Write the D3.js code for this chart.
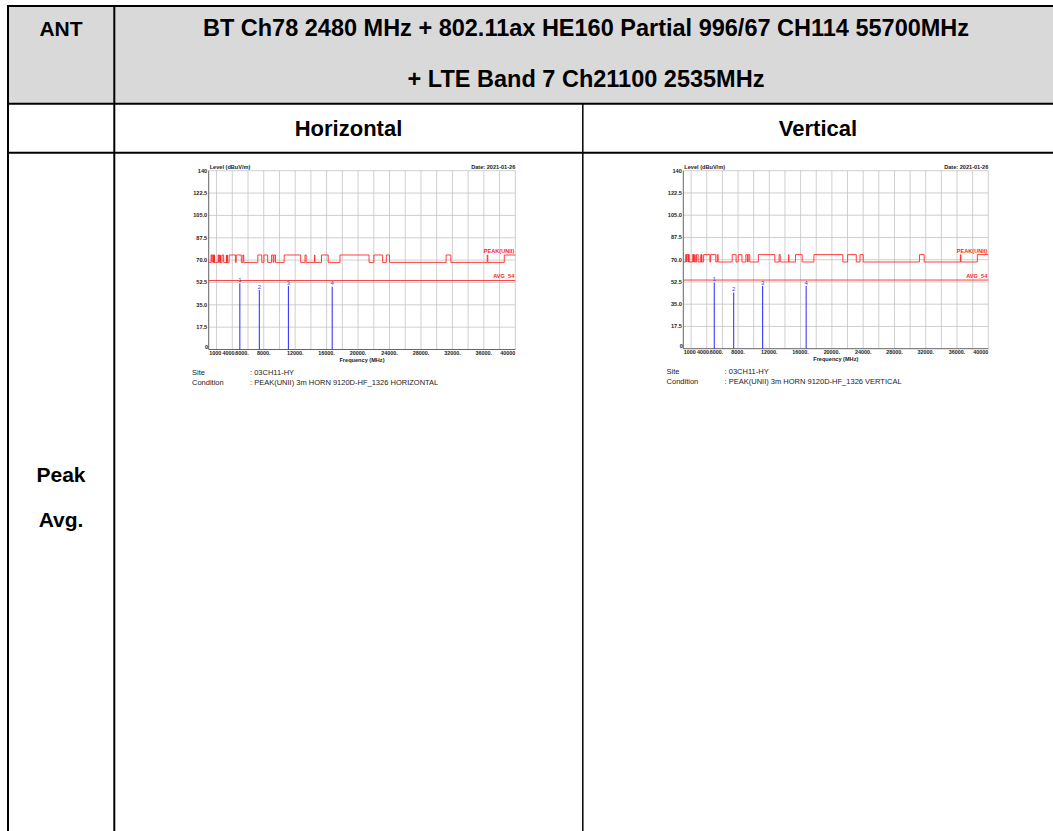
<!DOCTYPE html>
<html>
<head>
<meta charset="utf-8">
<script src="https://cdn.jsdelivr.net/npm/d3@7"></script>
<style>
  html, body { margin: 0; padding: 0; background: #ffffff; }
  svg { display: block; }
</style>
</head>
<body>
<script>
// ---- Axis definitions -------------------------------------------------
const freqTicks = [1000, 4000, 6000, 8000, 12000, 16000, 20000, 24000, 28000, 32000, 36000, 40000];
const freqTickLabels = ["1000", "4000.", "6000.", "8000.", "12000.", "16000.", "20000.", "24000.", "28000.", "32000.", "36000.", "40000"];
const levelTicks = [0, 17.5, 35, 52.5, 70, 87.5, 105, 122.5, 140];
const levelTickLabels = ["0", "17.5", "35.0", "52.5", "70.0", "87.5", "105.0", "122.5", "140"];

// ---- Limit lines -------------------------------------------------------
// Restricted bands (MHz): the peak limit steps up to 74 dBuV/m inside them
const restrictedBands = [
  [1300, 1427], [1435, 1626.5], [1645.5, 1646.5], [1660, 1710], [1718.8, 1722.2],
  [2200, 2300], [2310, 2390], [2483.5, 2500], [2690, 2900], [3260, 3267],
  [3332, 3339], [3345.8, 3358], [3600, 4400], [4500, 5150], [5350, 5460],
  [7250, 7750], [8025, 8500], [9000, 9200], [9300, 9500], [10600, 12700],
  [13250, 13400], [14470, 14500], [15350, 16200], [17700, 21400], [22010, 23120],
  [23600, 24000], [31200, 31800], [36430, 36500], [38600, 40000]
];
const peakLimitHigh = 74;
const peakLimitLow = 68.2;
const avgLimit = 54;

// ---- Measured emissions ------------------------------------------------
const markerNames = ["1", "2", "3", "4"];
const horizontalFreq = [4960, 7440, 11140, 16710];
const horizontalLevel = [51.8, 46.6, 49.7, 49.2];
const verticalFreq = [4960, 7440, 11140, 16710];
const verticalLevel = [52.1, 44.3, 49.4, 49.4];

// ---- Table text --------------------------------------------------------
const headerLines = [
  "BT Ch78 2480 MHz + 802.11ax HE160 Partial 996/67 CH114 55700MHz",
  "+ LTE Band 7 Ch21100 2535MHz"
];
const polarizations = ["Horizontal", "Vertical"];
const rowLabels = ["Peak", "Avg."];
const siteName = ": 03CH11-HY";
const conditionText = [
  ": PEAK(UNII) 3m HORN 9120D-HF_1326 HORIZONTAL",
  ": PEAK(UNII) 3m HORN 9120D-HF_1326 VERTICAL"
];

const W = 1053, H = 831;
const svg = d3.select("body").append("svg").attr("width", W).attr("height", H);

// ---- Table -------------------------------------------------------------
const tbl = svg.append("g");
tbl.append("rect").attr("x", 9).attr("y", 7).attr("width", W - 9).attr("height", 96)
  .attr("fill", "#d9d9d9");
const rule = (x1, y1, x2, y2, w) => tbl.append("line")
  .attr("x1", x1).attr("y1", y1).attr("x2", x2).attr("y2", y2)
  .attr("stroke", "#000").attr("stroke-width", w);
rule(7, 6, W, 6, 2);
rule(8, 5, 8, H, 2);
rule(114.3, 5, 114.3, H, 2);
rule(7, 103.7, W, 103.7, 2);
rule(7, 152.7, W, 152.7, 2);
rule(582.8, 103.7, 582.8, H, 1.5);

const headFont = "'Liberation Sans', Arial, sans-serif";
const tText = (x, y, s, size) => tbl.append("text").attr("x", x).attr("y", y)
  .attr("text-anchor", "middle").attr("font-family", headFont)
  .attr("font-weight", "bold").attr("font-size", size).attr("fill", "#000").text(s);
tText(61, 36, "ANT", 21);
tText(586, 36, headerLines[0], 23.5);
tText(586, 87, headerLines[1], 23.5);
tText(348.5, 136, polarizations[0], 22);
tText(818, 136, polarizations[1], 22);
tText(61, 482, rowLabels[0], 21);
tText(61, 527, rowLabels[1], 21);

// ---- Spectrum chart ----------------------------------------------------
function peakLimitPoints(x0, x1) {
  const pts = [[x0, peakLimitLow]];
  restrictedBands.forEach(([a, b]) => {
    pts.push([a, peakLimitHigh]);
    pts.push(b >= x1 ? [x1, peakLimitHigh] : [b, peakLimitLow]);
  });
  const last = pts[pts.length - 1];
  if (last[0] < x1) pts.push([x1, last[1]]);
  return pts;
}

function drawChart(frame, freqs, levels, condition) {
  const g = svg.append("g");
  const x = d3.scaleLinear().domain([1000, 40000]).range([frame.left, frame.right]);
  const y = d3.scaleLinear().domain([0, 140]).range([frame.bottom, frame.top]);
  const small = "'Liberation Sans', Arial, sans-serif";

  // grid
  g.append("g").selectAll("line").data(d3.range(2000, 40001, 2000)).join("line")
    .attr("x1", d => x(d)).attr("x2", d => x(d))
    .attr("y1", frame.top).attr("y2", frame.bottom)
    .attr("stroke", "#c4c4c4").attr("stroke-width", 0.8);
  g.append("g").selectAll("line").data(levelTicks.slice(1)).join("line")
    .attr("x1", frame.left).attr("x2", frame.right)
    .attr("y1", d => y(d)).attr("y2", d => y(d))
    .attr("stroke", "#c4c4c4").attr("stroke-width", 0.8);

  // axes frame
  g.append("line").attr("x1", frame.left).attr("x2", frame.left)
    .attr("y1", frame.top).attr("y2", frame.bottom)
    .attr("stroke", "#555").attr("stroke-width", 0.9);
  g.append("line").attr("x1", frame.left).attr("x2", frame.right)
    .attr("y1", frame.bottom).attr("y2", frame.bottom)
    .attr("stroke", "#555").attr("stroke-width", 0.9);

  // y tick labels
  g.append("g").selectAll("text").data(levelTicks).join("text")
    .attr("x", (d, i) => i === 0 ? frame.left - 0.5 : frame.left - 1.5)
    .attr("y", (d, i) => i === 0 ? y(d) - 1 : y(d) + 2)
    .attr("text-anchor", "end").attr("font-family", small).attr("font-weight", "bold")
    .attr("font-size", 5.6).attr("fill", "#222")
    .text((d, i) => levelTickLabels[i]);

  // x tick labels (the crowded 4000/6000 pair is nudged apart)
  g.append("g").selectAll("text").data(freqTicks).join("text")
    .attr("x", (d, i) => i === 0 ? frame.left + 0.5 : x(d) - (d === 6000 ? 6 : d === 4000 ? 3 : 0))
    .attr("y", frame.bottom + 5.5)
    .attr("text-anchor", (d, i) => i === 0 ? "start" : (i === freqTicks.length - 1 ? "end" : "middle"))
    .attr("font-family", small).attr("font-weight", "bold")
    .attr("font-size", 5.4).attr("fill", "#222")
    .text((d, i) => freqTickLabels[i]);

  g.append("text").attr("x", (frame.left + frame.right) / 2).attr("y", frame.bottom + 12.5)
    .attr("text-anchor", "middle").attr("font-family", small).attr("font-weight", "bold")
    .attr("font-size", 5.6).attr("fill", "#222").text("Frequency (MHz)");
  g.append("text").attr("x", frame.left + 1).attr("y", frame.top - 1.5)
    .attr("font-family", small).attr("font-weight", "bold")
    .attr("font-size", 5.6).attr("fill", "#222").text("Level (dBuV/m)");
  g.append("text").attr("x", frame.right).attr("y", frame.top - 1.5)
    .attr("text-anchor", "end").attr("font-family", small).attr("font-weight", "bold")
    .attr("font-size", 5.6).attr("fill", "#222").text("Date: 2021-01-26");

  // limit lines
  const line = d3.line().x(d => x(d[0])).y(d => y(d[1])).curve(d3.curveStepAfter);
  g.append("path").datum(peakLimitPoints(1000, 40000)).attr("d", line)
    .attr("fill", "none").attr("stroke", "#ff2a2a").attr("stroke-width", 0.9);
  g.append("path").datum([[1000, avgLimit], [40000, avgLimit]]).attr("d", line)
    .attr("fill", "none").attr("stroke", "#ff2a2a").attr("stroke-width", 0.9);
  g.append("text").attr("x", frame.right - 1).attr("y", y(peakLimitHigh) - 1.8)
    .attr("text-anchor", "end").attr("font-family", small).attr("font-weight", "bold")
    .attr("font-size", 5.6).attr("fill", "#ff2020").text("PEAK(UNII)");
  g.append("text").attr("x", frame.right - 1).attr("y", y(avgLimit) - 2.5)
    .attr("text-anchor", "end").attr("font-family", small).attr("font-weight", "bold")
    .attr("font-size", 5.6).attr("fill", "#ff2020").text("AVG_54");

  // emission markers
  const mk = g.append("g").selectAll("g").data(freqs).join("g");
  mk.append("line")
    .attr("x1", d => x(d)).attr("x2", d => x(d))
    .attr("y1", (d, i) => y(levels[i])).attr("y2", frame.bottom)
    .attr("stroke", "#3a3aff").attr("stroke-width", 1.1);
  mk.append("text")
    .attr("x", d => x(d)).attr("y", (d, i) => y(levels[i]) - 1.2)
    .attr("text-anchor", "middle").attr("font-family", small)
    .attr("font-size", 6).attr("fill", "#3a3aff")
    .text((d, i) => markerNames[i]);

  // site / condition notes
  const noteText = (dx, dy, s) => g.append("text")
    .attr("x", frame.left + dx).attr("y", frame.bottom + dy)
    .attr("font-family", small).attr("font-size", 7.5).attr("fill", "#222").text(s);
  noteText(-16.7, 25.3, "Site");
  noteText(41.3, 25.3, siteName);
  noteText(-16.7, 35.3, "Condition");
  noteText(41.3, 35.3, condition);
}

drawChart({ left: 208.7, right: 515.3, top: 170.7, bottom: 349.5 },
  horizontalFreq, horizontalLevel, conditionText[0]);
drawChart({ left: 683.3, right: 988.3, top: 170.7, bottom: 348.7 },
  verticalFreq, verticalLevel, conditionText[1]);
</script>
</body>
</html>
